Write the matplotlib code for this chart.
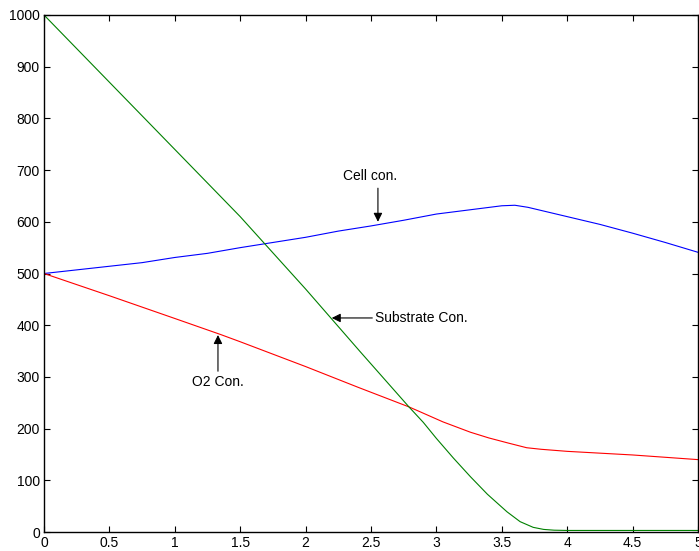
import matplotlib
matplotlib.use("Agg")
import matplotlib.pyplot as plt

plt.rcParams['font.family'] = ['Liberation Sans', 'DejaVu Sans']

# Cell concentration (blue)
cell_x = [0, 0.25, 0.5, 0.75, 1, 1.25, 1.5, 1.75, 2, 2.25, 2.5, 2.75, 3, 3.25, 3.5, 3.6, 3.7, 3.75, 4, 4.25, 4.5, 4.75, 5]
cell_y = [500, 507, 514, 521, 531, 539, 550, 560, 570, 582, 592, 603, 615, 623, 631, 632, 628, 625, 610, 595, 578, 560, 541]

# O2 concentration (red)
o2_x = [0, 0.5, 1, 1.35, 1.5, 2, 2.4, 2.79, 2.88, 3.05, 3.26, 3.4, 3.55, 3.69, 3.8, 4, 4.5, 5]
o2_y = [500, 457, 413, 382, 368, 320, 280, 242, 232, 213, 193, 182, 172, 163, 160, 156, 149, 140]

# Substrate concentration (green)
sub_x = [0, 0.5, 1, 1.5, 2, 2.42, 2.79, 2.9, 3.0, 3.13, 3.26, 3.39, 3.54, 3.64, 3.74, 3.82, 3.9, 4, 5]
sub_y = [1000, 870, 740, 610, 470, 348, 242, 212, 181, 143, 107, 73, 39, 20, 9, 5, 3.5, 3, 3]

xticks = [0, 0.5, 1, 1.5, 2, 2.5, 3, 3.5, 4, 4.5, 5]
xticklabels = ['0', '0.5', '1', '1.5', '2', '2.5', '3', '3.5', '4', '4.5', '5']
yticks = [0, 100, 200, 300, 400, 500, 600, 700, 800, 900, 1000]

fig = plt.figure(figsize=(6.99, 5.51), dpi=100)
ax = fig.add_axes([44/699, 19/551, 654/699, 517/551])

ax.plot(cell_x, cell_y, color='#0000ff', lw=0.8)
ax.plot(o2_x, o2_y, color='#ff0000', lw=0.8)
ax.plot(sub_x, sub_y, color='#008000', lw=0.8)

ax.set_xlim(0, 5)
ax.set_ylim(0, 1000)
ax.set_xticks(xticks)
ax.set_xticklabels(xticklabels)
ax.set_yticks(yticks)
ax.tick_params(direction='in', top=True, right=True, length=4, width=0.8,
               labelsize=10, pad=3)
for s in ax.spines.values():
    s.set_linewidth(1.0)

ap = dict(arrowstyle='-|>', color='black', lw=0.8, mutation_scale=13,
          shrinkA=0, shrinkB=0)
ax.annotate('', xy=(2.553, 600), xytext=(2.553, 665), arrowprops=ap)
ax.text(2.49, 689, 'Cell con.', ha='center', va='center', fontsize=10)

ax.annotate('', xy=(2.20, 414), xytext=(2.51, 414), arrowprops=ap)
ax.text(2.53, 414, 'Substrate Con.', ha='left', va='center', fontsize=10)

ax.annotate('', xy=(1.33, 381), xytext=(1.33, 311), arrowprops=ap)
ax.text(1.33, 291, 'O2 Con.', ha='center', va='center', fontsize=10)

fig.savefig('out.png', dpi=100)
